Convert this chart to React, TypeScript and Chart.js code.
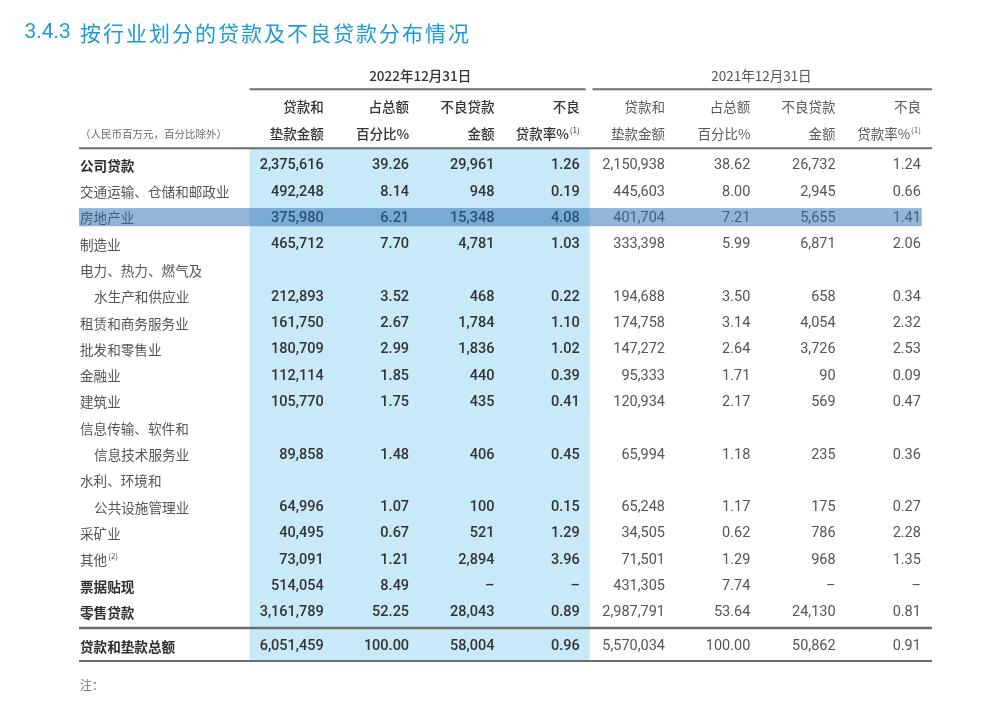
import React, { useEffect, useRef } from "react";
import { Chart, registerables } from "chart.js";

Chart.register(...registerables);

// ---------------- data ----------------
const TITLE_NUM = "3.4.3";
const TITLE_TEXT = "按行业划分的贷款及不良贷款分布情况";
const UNIT_NOTE = "（人民币百万元，百分比除外）";
const FOOT_NOTE = "注：";
const PERIODS = ["2022年12月31日", "2021年12月31日"];
const HEADER_LINE1 = ["贷款和", "占总额", "不良贷款", "不良"];
const HEADER_LINE2 = ["垫款金额", "百分比%", "金额", "贷款率%"];
const HEADER_NOTES = ["", "", "", "(1)"];

const CATEGORIES = [
  "公司贷款",
  "交通运输、仓储和邮政业",
  "房地产业",
  "制造业",
  "电力、热力、燃气及",
  "水生产和供应业",
  "租赁和商务服务业",
  "批发和零售业",
  "金融业",
  "建筑业",
  "信息传输、软件和",
  "信息技术服务业",
  "水利、环境和",
  "公共设施管理业",
  "采矿业",
  "其他",
  "票据贴现",
  "零售贷款",
  "贷款和垫款总额",
];
const CATEGORY_NOTES = ["", "", "", "", "", "", "", "", "", "", "", "", "", "", "", "(2)", "", "", ""];
const BOLD_ROWS = [0, 16, 17, 18];
const INDENT_ROWS = [5, 11, 13];
const HIGHLIGHT_ROW = 2;

const LOANS_2022 = [2375616, 492248, 375980, 465712, null, 212893, 161750, 180709, 112114, 105770, null, 89858, null, 64996, 40495, 73091, 514054, 3161789, 6051459];
const PCT_2022 = [39.26, 8.14, 6.21, 7.70, null, 3.52, 2.67, 2.99, 1.85, 1.75, null, 1.48, null, 1.07, 0.67, 1.21, 8.49, 52.25, 100.0];
const NPL_2022 = [29961, 948, 15348, 4781, null, 468, 1784, 1836, 440, 435, null, 406, null, 100, 521, 2894, null, 28043, 58004];
const RATE_2022 = [1.26, 0.19, 4.08, 1.03, null, 0.22, 1.10, 1.02, 0.39, 0.41, null, 0.45, null, 0.15, 1.29, 3.96, null, 0.89, 0.96];

const LOANS_2021 = [2150938, 445603, 401704, 333398, null, 194688, 174758, 147272, 95333, 120934, null, 65994, null, 65248, 34505, 71501, 431305, 2987791, 5570034];
const PCT_2021 = [38.62, 8.0, 7.21, 5.99, null, 3.5, 3.14, 2.64, 1.71, 2.17, null, 1.18, null, 1.17, 0.62, 1.29, 7.74, 53.64, 100.0];
const NPL_2021 = [26732, 2945, 5655, 6871, null, 658, 4054, 3726, 90, 569, null, 235, null, 175, 786, 968, null, 24130, 50862];
const RATE_2021 = [1.24, 0.66, 1.41, 2.06, null, 0.34, 2.32, 2.53, 0.09, 0.47, null, 0.36, null, 0.27, 2.28, 1.35, null, 0.81, 0.91];

const COLUMNS_2022 = [LOANS_2022, PCT_2022, NPL_2022, RATE_2022];
const COLUMNS_2021 = [LOANS_2021, PCT_2021, NPL_2021, RATE_2021];
const COLUMN_KINDS = ["int", "dec", "int", "dec"];

// ---------------- layout (scale units) ----------------
const L = {
  xMin: -2,
  xMax: 8,
  yMin: -4,
  yMax: 20,
  titleY: -5.06,
  periodY: -3.42,
  periodRuleY: -2.85,
  head1Y: -2.24,
  head2Y: -1.22,
  headRuleY: -0.61,
  totalY: 18.29,
  totalRuleY: 17.64,
  bottomRuleY: 18.9,
  noteY: 19.78,
  cellPad: 0.13,
  indent: 0.165,
};
const TEXT_SHIFT = 1.5; // px baseline correction

const CJK = '"Noto Sans CJK SC", "Noto Sans", sans-serif';
const NUM = 'Roboto, "Noto Sans", sans-serif';

function fmt(v: number | null, kind: string) {
  if (v === null) return "–";
  if (kind === "int") return v.toLocaleString("en-US");
  return v.toFixed(2);
}

function rowY(i: number) {
  return i === CATEGORIES.length - 1 ? L.totalY : i;
}

function drawRight(ctx: CanvasRenderingContext2D, text: string, sup: string, x: number, y: number, font: string, supFont: string) {
  let supW = 0;
  if (sup) {
    ctx.font = supFont;
    supW = ctx.measureText(sup).width + 1;
    ctx.textAlign = "right";
    ctx.fillText(sup, x, y - 4);
  }
  ctx.font = font;
  ctx.textAlign = "right";
  ctx.fillText(text, x - supW, y);
}

const tablePlugin = {
  id: "loanTable",
  beforeDraw(chart: any) {
    const { ctx } = chart;
    const xs = chart.scales.x;
    const ys = chart.scales.y;
    const X = (v: number) => xs.getPixelForValue(v);
    const Y = (v: number) => ys.getPixelForValue(v);
    const T = (v: number) => ys.getPixelForValue(v) + TEXT_SHIFT;
    ctx.save();
    ctx.fillStyle = "#ffffff";
    ctx.fillRect(0, 0, chart.width, chart.height);

    // blue 2022 band
    ctx.fillStyle = "#c8e9f8";
    ctx.fillRect(X(0), Y(L.headRuleY), X(4) - X(0) - 1, Y(L.bottomRuleY) - Y(L.headRuleY));

    ctx.textBaseline = "middle";

    // title
    ctx.fillStyle = "#1f9ad6";
    ctx.font = `400 21px ${NUM}`;
    ctx.textAlign = "left";
    ctx.fillText(TITLE_NUM, X(-2.64), T(L.titleY) + 0.5);
    ctx.font = `400 21px ${CJK}`;
    (ctx as any).letterSpacing = "2px";
    ctx.fillText(TITLE_TEXT, X(-2.0) + 1, T(L.titleY) + 0.5);
    (ctx as any).letterSpacing = "0px";

    // period headers
    ctx.textAlign = "center";
    ctx.font = `500 13.5px ${CJK}`;
    ctx.fillStyle = "#333";
    ctx.fillText(PERIODS[0], X(2), T(L.periodY));
    ctx.font = `400 13.5px ${CJK}`;
    ctx.fillStyle = "#555";
    ctx.fillText(PERIODS[1], X(6), T(L.periodY));

    // rules
    ctx.strokeStyle = "#6e6e6e";
    const rule = (x0: number, x1: number, y: number, w = 2) => {
      ctx.lineWidth = w;
      ctx.beginPath();
      ctx.moveTo(X(x0), Y(y));
      ctx.lineTo(X(x1), Y(y));
      ctx.stroke();
    };
    rule(0, 3.94, L.periodRuleY);
    rule(4.02, 8, L.periodRuleY);
    rule(-2, 8, L.headRuleY);
    rule(-2, 8, L.totalRuleY, 2.5);
    rule(-2, 8, L.bottomRuleY);

    // unit note
    ctx.textAlign = "left";
    ctx.font = `400 10.5px ${CJK}`;
    ctx.fillStyle = "#666";
    ctx.fillText(UNIT_NOTE, X(-2) + 1, T(L.head2Y));

    // column headers
    for (let g = 0; g < 2; g++) {
      const font = g === 0 ? `500 13.5px ${CJK}` : `400 13.5px ${CJK}`;
      ctx.fillStyle = g === 0 ? "#333" : "#5a5a5a";
      for (let c = 0; c < 4; c++) {
        const xr = X(g * 4 + c + 1 - L.cellPad);
        drawRight(ctx, HEADER_LINE1[c], "", xr, T(L.head1Y), font, "");
        drawRight(ctx, HEADER_LINE2[c], HEADER_NOTES[c], xr, T(L.head2Y), font, `400 8px ${CJK}`);
      }
    }

    // rows
    CATEGORIES.forEach((label, i) => {
      const y = T(rowY(i));
      const bold = BOLD_ROWS.includes(i);
      const indent = INDENT_ROWS.includes(i);
      ctx.textAlign = "left";
      ctx.fillStyle = bold ? "#2e2e2e" : "#555";
      ctx.font = `${bold ? 700 : 400} 13.6px ${CJK}`;
      const lx = X(-2 + (indent ? L.indent : 0)) + 1;
      ctx.fillText(label, lx, y);
      if (CATEGORY_NOTES[i]) {
        const w = ctx.measureText(label).width;
        ctx.font = `400 8px ${CJK}`;
        ctx.fillText(CATEGORY_NOTES[i], lx + w + 1, y - 4);
      }
      if (LOANS_2022[i] === null) return;
      [COLUMNS_2022, COLUMNS_2021].forEach((cols, g) => {
        ctx.fillStyle = g === 0 ? "#333" : "#555";
        const font = g === 0 ? `500 14.5px ${NUM}` : `400 14.5px ${NUM}`;
        cols.forEach((col, c) => {
          drawRight(ctx, fmt(col[i], COLUMN_KINDS[c]), "", X(g * 4 + c + 1 - L.cellPad), y, font, "");
        });
      });
    });

    // foot note
    ctx.textAlign = "left";
    ctx.font = `400 12px ${CJK}`;
    ctx.fillStyle = "#777";
    ctx.fillText(FOOT_NOTE, X(-2) + 1, T(L.noteY));

    // highlighted row overlay
    ctx.fillStyle = "rgba(40,110,175,0.5)";
    const hy = rowY(HIGHLIGHT_ROW);
    ctx.fillRect(X(-2), Y(hy - 0.33), X(7.88) - X(-2), Y(hy + 0.36) - Y(hy - 0.33));

    ctx.restore();
  },
};

export default function App() {
  const ref = useRef<HTMLCanvasElement | null>(null);
  useEffect(() => {
    if (!ref.current) return;
    const chart = new Chart(ref.current, {
      type: "scatter",
      data: { datasets: [{ data: [], pointRadius: 0 }] },
      options: {
        responsive: false,
        animation: false,
        devicePixelRatio: 1,
        layout: { padding: { left: 79, right: 68, top: 59, bottom: 14 } },
        plugins: { legend: { display: false }, tooltip: { enabled: false }, title: { display: false } },
        scales: {
          x: { type: "linear", min: L.xMin, max: L.xMax, display: false },
          y: { type: "linear", min: L.yMin, max: L.yMax, reverse: true, display: false },
        },
      },
      plugins: [tablePlugin],
    });
    return () => chart.destroy();
  }, []);
  return (
    <div style={{ position: "absolute", left: 0, top: 0, width: 1000, height: 704, background: "#fff" }}>
      <canvas ref={ref} width={1000} height={704} style={{ display: "block" }} />
    </div>
  );
}
